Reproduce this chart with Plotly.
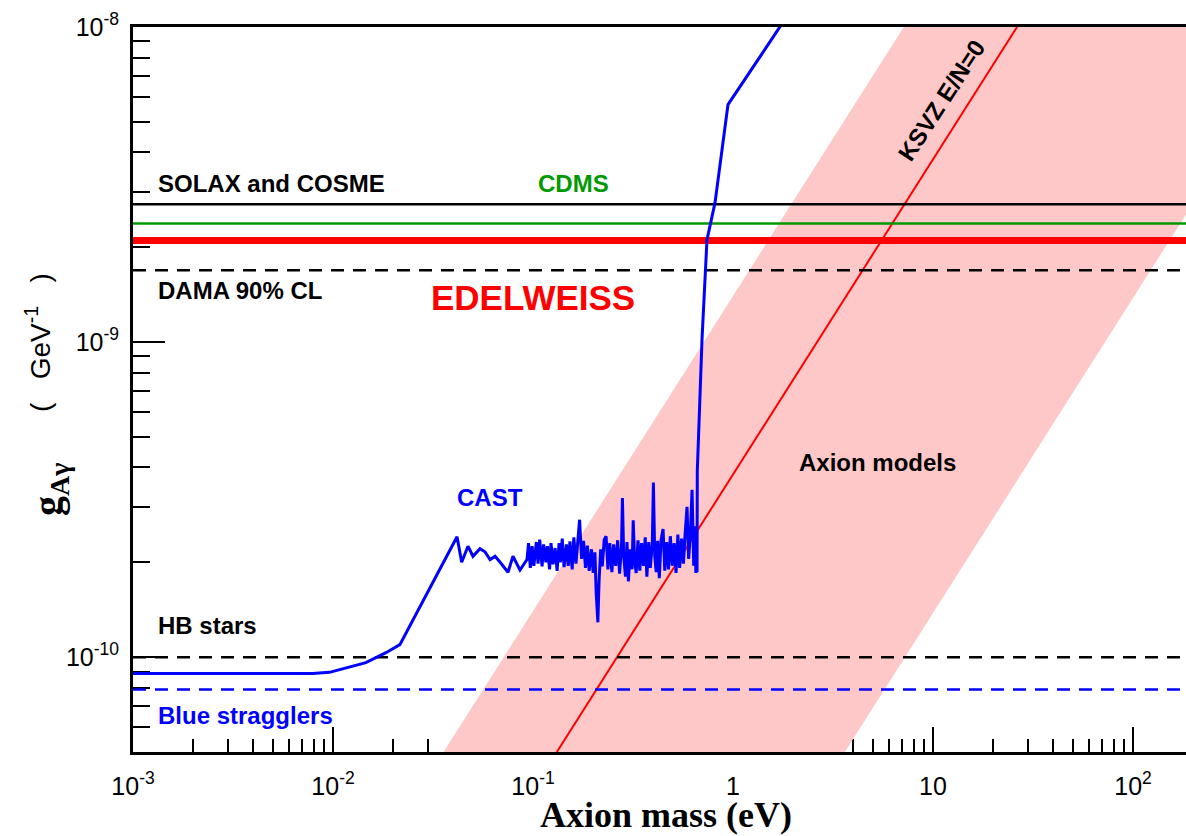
import plotly.graph_objects as go
import numpy as np

# ---------------- data ----------------
x_log_range = [-3.0, 2.265]          # log10(eV)
y_range = [5e-11, 1e-8]              # GeV^-1

x_tick_vals = [1e-3, 1e-2, 1e-1, 1, 10, 100]
x_tick_text = ["10<sup>-3</sup>", "10<sup>-2</sup>", "10<sup>-1</sup>", "1", "10", "10<sup>2</sup>"]
y_tick_vals = [1e-10, 1e-9, 1e-8]
y_tick_text = ["10<sup>-10</sup>", "10<sup>-9</sup>", "10<sup>-8</sup>"]

solax_cosme_g = 2.74e-9
cdms_g = 2.38e-9
edelweiss_g = 2.10e-9
dama_g = 1.69e-9
hb_stars_g = 1.0e-10
blue_stragglers_g = 7.9e-11

ksvz_g_per_eV = 3.8e-10
band_upper_g_per_eV = 1.4e-9
band_lower_g_per_eV = 1.38e-11

cast_mass = [
    1e-3, 7.9e-3, 0.0096, 0.0108, 0.0126, 0.0146, 0.0184, 0.0216, 0.0417,
    0.0440, 0.0473, 0.0501, 0.0543, 0.0575, 0.0610, 0.0646, 0.0685, 0.0750, 0.0794, 0.0861, 0.0933,
    0.095, 0.097, 0.099, 0.101, 0.104, 0.106, 0.108, 0.111, 0.113, 0.116, 0.118, 0.121, 0.123, 0.126,
    0.129, 0.132, 0.135, 0.137, 0.140, 0.143, 0.147, 0.150, 0.153, 0.157, 0.160, 0.164, 0.167, 0.171,
    0.175, 0.179, 0.183, 0.187, 0.191, 0.196, 0.200, 0.204, 0.207, 0.211, 0.214, 0.218, 0.222, 0.227,
    0.232, 0.237, 0.242, 0.248, 0.253, 0.259, 0.265, 0.271, 0.277, 0.280, 0.284, 0.290, 0.295, 0.300,
    0.306, 0.313, 0.317, 0.322, 0.328, 0.335, 0.342, 0.349, 0.357, 0.364, 0.371, 0.379, 0.386, 0.395,
    0.400, 0.406, 0.413, 0.420, 0.428, 0.437, 0.447, 0.456, 0.466, 0.476, 0.486, 0.497, 0.508, 0.519,
    0.530, 0.541, 0.553, 0.565, 0.577, 0.589, 0.600, 0.612, 0.624, 0.636, 0.645, 0.652, 0.658, 0.661,
    0.663, 0.700, 0.741, 0.813, 0.944, 1.75,
]
cast_g = [
    8.87e-11, 8.87e-11, 8.95e-11, 9.13e-11, 9.35e-11, 9.61e-11, 1.033e-10, 1.096e-10, 2.41e-10,
    2.00e-10, 2.25e-10, 2.09e-10, 2.21e-10, 2.16e-10, 2.04e-10, 2.09e-10, 2.00e-10, 1.86e-10, 2.09e-10, 1.89e-10, 2.04e-10,
    2.30e-10, 1.92e-10, 2.25e-10, 1.95e-10, 2.32e-10, 1.98e-10, 2.36e-10, 1.94e-10, 2.28e-10, 2.00e-10, 2.25e-10, 1.90e-10, 2.30e-10, 1.97e-10,
    2.22e-10, 1.88e-10, 2.30e-10, 2.00e-10, 2.38e-10, 1.93e-10, 2.28e-10, 1.95e-10, 2.33e-10, 1.90e-10, 2.40e-10, 1.98e-10, 2.30e-10, 2.73e-10,
    2.05e-10, 2.34e-10, 1.92e-10, 2.26e-10, 1.88e-10, 2.20e-10, 1.85e-10, 2.15e-10, 1.60e-10, 1.29e-10, 1.75e-10, 2.20e-10, 1.94e-10, 2.36e-10,
    2.42e-10, 1.90e-10, 2.30e-10, 1.86e-10, 2.28e-10, 1.95e-10, 2.35e-10, 1.84e-10, 2.25e-10, 3.20e-10, 2.10e-10, 1.80e-10, 2.32e-10, 1.74e-10,
    2.20e-10, 1.90e-10, 2.72e-10, 2.05e-10, 1.85e-10, 2.35e-10, 1.88e-10, 2.30e-10, 1.95e-10, 2.40e-10, 1.80e-10, 2.32e-10, 1.92e-10, 2.30e-10,
    3.58e-10, 2.10e-10, 1.86e-10, 2.34e-10, 1.78e-10, 2.36e-10, 2.55e-10, 1.88e-10, 2.32e-10, 1.90e-10, 2.42e-10, 1.95e-10, 2.30e-10, 1.85e-10,
    2.45e-10, 1.92e-10, 2.38e-10, 1.98e-10, 2.50e-10, 3.00e-10, 2.05e-10, 2.45e-10, 3.40e-10, 1.95e-10, 2.60e-10, 1.85e-10, 2.20e-10, 1.86e-10,
    3.9e-10, 1.02e-9, 2.11e-9, 2.77e-9, 5.67e-9, 1.02e-8,
]

# ---------------- geometry helpers (layout only) ----------------
W, H = 1186, 836
ML, MR, MT, MB = 133, 0, 27, 84
PW, PH = W - ML - MR, H - MT - MB


def px(x):
    return (x - ML) / PW


def py(y):
    return (H - MB - y) / PH


SANS = "Liberation Sans, Arial, sans-serif"
SERIF = "Liberation Serif, Times New Roman, serif"

fig = go.Figure()

x_lo = 10 ** x_log_range[0]
x_hi = 10 ** x_log_range[1]

# Axion model band
band_m = np.array([x_lo, x_hi])
band_x = list(band_m) + list(band_m[::-1])
band_y = list(band_upper_g_per_eV * band_m) + list(band_lower_g_per_eV * band_m[::-1])
fig.add_trace(go.Scatter(x=band_x, y=band_y, mode="lines", fill="toself",
                         fillcolor="#ffc8c8", line=dict(width=0), hoverinfo="skip"))

# KSVZ line
ksvz_m = np.array([y_range[0] / ksvz_g_per_eV, y_range[1] / ksvz_g_per_eV])
fig.add_trace(go.Scatter(x=ksvz_m, y=ksvz_g_per_eV * ksvz_m, mode="lines",
                         line=dict(color="#ff0000", width=2)))


def hline(val, color, width, dash="solid"):
    fig.add_trace(go.Scatter(x=[x_lo, x_hi], y=[val, val], mode="lines",
                             line=dict(color=color, width=width, dash=dash)))


hline(solax_cosme_g, "#000000", 2.5)
hline(cdms_g, "#009a00", 2.5)
hline(edelweiss_g, "#ff0000", 7)
hline(dama_g, "#000000", 2.5, "13px,9px")
hline(hb_stars_g, "#000000", 2.5, "13px,9px")
hline(blue_stragglers_g, "#0000ff", 2.5, "13px,9px")

# CAST
fig.add_trace(go.Scatter(x=cast_mass, y=cast_g, mode="lines",
                         line=dict(color="#0000ff", width=3)))

# minor ticks
x_minor = [k * 10.0 ** e for e in range(-3, 3) for k in range(2, 10) if k * 10.0 ** e <= x_hi]
y_minor = [k * 10.0 ** e for e in range(-11, -8) for k in range(2, 10) if y_range[0] <= k * 10.0 ** e < y_range[1]]

fig.update_layout(
    width=W, height=H,
    margin=dict(l=ML, r=MR, t=MT, b=MB),
    paper_bgcolor="white", plot_bgcolor="white",
    showlegend=False,
    xaxis=dict(
        type="log", range=x_log_range, showgrid=False, zeroline=False,
        showline=True, linecolor="black", linewidth=2.5, mirror=True,
        ticks="inside", ticklen=25, tickwidth=2, tickcolor="black",
        tickmode="array", tickvals=x_tick_vals, ticktext=x_tick_text,
        tickfont=dict(family=SANS, size=25, color="black"),
        ticklabelstandoff=10,
        minor=dict(tickmode="array", tickvals=x_minor, ticks="inside", ticklen=13,
                   tickwidth=2, tickcolor="black", showgrid=False),
        layer="below traces",
    ),
    yaxis=dict(
        type="log", range=[np.log10(y_range[0]), np.log10(y_range[1])],
        showgrid=False, zeroline=False,
        showline=True, linecolor="black", linewidth=3, mirror=False,
        ticks="inside", ticklen=32, tickwidth=2, tickcolor="black",
        tickmode="array", tickvals=y_tick_vals, ticktext=y_tick_text,
        tickfont=dict(family=SANS, size=25, color="black"),
        ticklabelstandoff=6,
        minor=dict(tickmode="array", tickvals=y_minor, ticks="inside", ticklen=17,
                   tickwidth=2, tickcolor="black", showgrid=False),
        layer="below traces",
    ),
)


def label(text, x, y, color="black", size=24, xanchor="left", weight="bold", family=SANS, angle=0):
    fig.add_annotation(text=text, xref="paper", yref="paper", x=px(x), y=py(y),
                       xanchor=xanchor, yanchor="middle", showarrow=False, textangle=angle,
                       font=dict(family=family, size=size, color=color, weight=weight))


label("SOLAX and COSME", 156, 183)
label("CDMS", 573, 183, color="#009a00", xanchor="center")
label("DAMA 90% CL", 156, 290)
label("EDELWEISS", 429, 297, color="#ff0000", size=35)
label("HB stars", 156, 625)
label("Blue stragglers", 156, 715, color="#0000ff")
label("CAST", 490, 497, color="#0000ff", xanchor="center")
label("Axion models", 877, 462, xanchor="center")
label("KSVZ E/N=0", 941, 100, xanchor="center", angle=-57)

# axis titles
fig.add_annotation(text="Axion mass (eV)", xref="paper", yref="paper",
                   x=px(666), y=py(815), xanchor="center", yanchor="middle", showarrow=False,
                   font=dict(family=SERIF, size=36, color="black", weight="bold"))
fig.add_annotation(text="g<sub>Aγ</sub>", xref="paper", yref="paper",
                   x=px(50), y=py(490), xanchor="center", yanchor="middle", showarrow=False,
                   textangle=-90,
                   font=dict(family=SERIF, size=40, color="black", weight="bold"))
fig.add_annotation(text="(\u00a0\u00a0\u00a0GeV<sup>-1</sup>\u00a0\u00a0\u00a0)", xref="paper", yref="paper",
                   x=px(38), y=py(343), xanchor="center", yanchor="middle", showarrow=False,
                   textangle=-90,
                   font=dict(family=SANS, size=28, color="black"))

fig.write_html("out.html")
